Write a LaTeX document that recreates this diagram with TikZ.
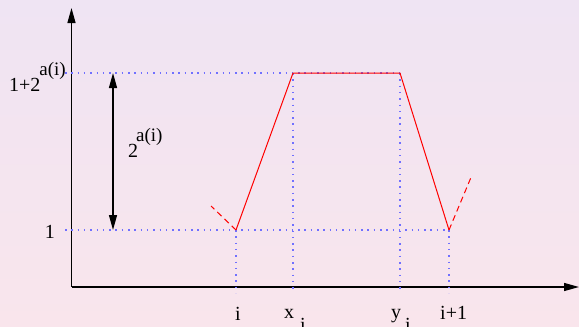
\documentclass[tikz,border=0pt]{standalone}
\usepackage{fontspec}
\setmainfont{Liberation Serif}
\usetikzlibrary{arrows.meta}

\definecolor{guide}{RGB}{112,112,255}
\definecolor{bgtop}{RGB}{239,228,243}
\definecolor{bgbottom}{RGB}{249,229,236}

\tikzset{
  axis/.style={line width=1.3pt, ->},
  guideline/.style={guide, line width=1.5pt, dash pattern=on 1.5pt off 4.8pt},
  profile/.style={red, line width=1pt},
  lbl/.style={inner sep=0pt, font=\fontsize{20}{24}\selectfont},
}
\newcommand{\up}[1]{\raisebox{16pt}{\fontsize{19}{22}\selectfont #1}}
\newcommand{\down}[1]{\raisebox{-13pt}{#1}}

\begin{document}
\begin{tikzpicture}[x=1pt, y=-1pt, >={Triangle[length=15pt, width=8pt]}]
    \shade[top color=bgtop, bottom color=bgbottom] (0,0) rectangle (579,327);
    \useasboundingbox (0,0) rectangle (579,327);

    % axes
    \coordinate (origin) at (71.5,287);
    \coordinate (ytop) at (71.5,8);
    \coordinate (xend) at (579,287);
    \draw[axis] (origin) -- (ytop);
    \draw[axis] (origin) -- (xend);

    % points of the profile
    \coordinate (pi) at (236,230);
    \coordinate (pxi) at (293,73);
    \coordinate (pyi) at (400,73);
    \coordinate (pnext) at (449,230);
    \coordinate (lowleft) at (65,230);
    \coordinate (highleft) at (65,73);

    \draw[guideline] (highleft) -- (pyi);
    \draw[guideline] (lowleft) -- (pnext);
    \draw[guideline] (pi) -- (pi |- 0,293);
    \draw[guideline] (pxi) -- (pxi |- 0,293);
    \draw[guideline] (pyi) -- (pyi |- 0,293);
    \draw[guideline] (pnext) -- (pnext |- 0,293);

    \draw[profile] (pi) -- (pxi) -- (pyi) -- (pnext);
    \draw[profile, dash pattern=on 6pt off 4pt] (pi) -- (211,206);
    \draw[profile, dash pattern=on 6pt off 4pt] (pnext) -- (472,175);

    % height of the step
    \coordinate (hitop) at (113,73);
    \coordinate (hibot) at (113,230);
    \draw[line width=1.3pt, <->] (hibot) -- (hitop);
    \node[lbl, anchor=base west] (height) at (128,157) {2\hspace{-2pt}\up{a(i)}};

    \node[lbl, anchor=base east] (one) at (55,238) {1};
    \node[lbl, anchor=base east] (top) at (66,91) {1+2\hspace{-1pt}\up{a(i)}};

    \node[lbl, anchor=base] (li) at (238,320) {i};
    \node[lbl, anchor=base west] (lxi) at (284,318) {x\hspace{6pt}\down{i}};
    \node[lbl, anchor=base west] (lyi) at (391,318) {y\hspace{4pt}\down{i}};
    \node[lbl, anchor=base west] (lnext) at (440,319) {i+1};
\end{tikzpicture}
\end{document}
